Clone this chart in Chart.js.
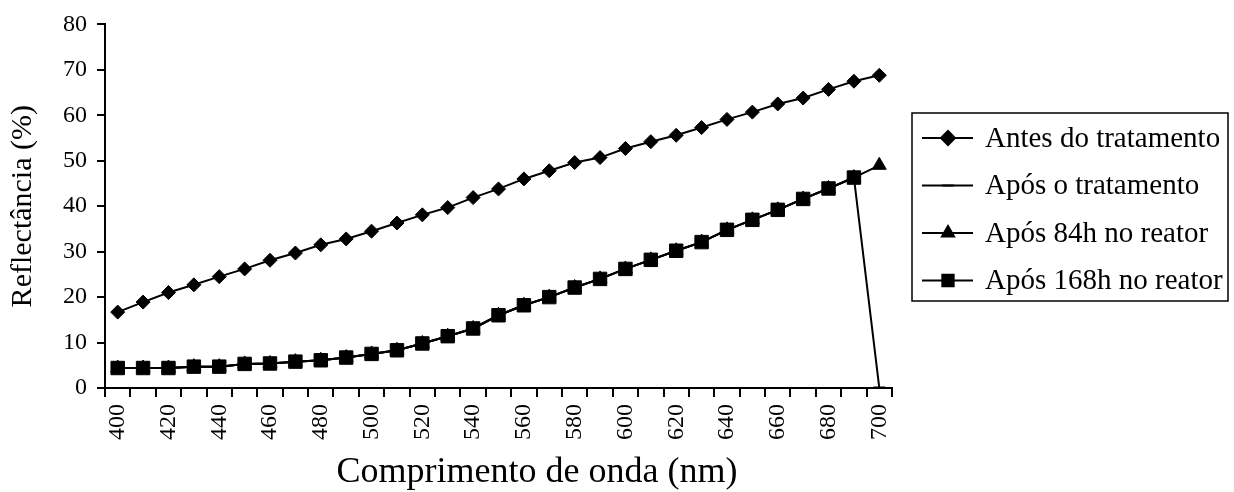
<!DOCTYPE html>
<html>
<head>
<meta charset="utf-8">
<script src="https://cdn.jsdelivr.net/npm/chart.js@4.4.1/dist/chart.umd.min.js"></script>
<style>
  html, body { margin: 0; padding: 0; background: #fff; }
  #wrap { width: 1234px; height: 492px; position: relative; }
</style>
</head>
<body>
<div id="wrap"><canvas id="c" width="1234" height="492"></canvas></div>
<script>
const wavelengths = [400,410,420,430,440,450,460,470,480,490,500,510,520,530,540,550,560,570,580,590,600,610,620,630,640,650,660,670,680,690,700];
const antesTratamento = [16.7,18.9,21.0,22.7,24.5,26.2,28.1,29.7,31.5,32.8,34.5,36.3,38.1,39.7,41.9,43.8,46.0,47.8,49.6,50.7,52.7,54.2,55.6,57.3,59.1,60.7,62.5,63.8,65.7,67.5,68.8];
const aposTratamento = [4.4,4.4,4.4,4.7,4.7,5.3,5.4,5.8,6.1,6.7,7.5,8.3,9.8,11.4,13.1,16.0,18.2,20.0,22.1,24.0,26.2,28.2,30.2,32.1,34.8,37.0,39.2,41.6,43.9,46.3,0];
const apos84h = [4.4,4.4,4.4,4.7,4.7,5.3,5.4,5.8,6.1,6.7,7.5,8.3,9.8,11.4,13.1,16.0,18.2,20.0,22.1,24.0,26.2,28.2,30.2,32.1,34.8,37.0,39.2,41.6,43.9,46.3,49.0];
const apos168h = [4.4,4.4,4.4,4.7,4.7,5.3,5.4,5.8,6.1,6.7,7.5,8.3,9.8,11.4,13.1,16.0,18.2,20.0,22.1,24.0,26.2,28.2,30.2,32.1,34.8,37.0,39.2,41.6,43.9,46.3,null];
const seriesNames = ['Antes do tratamento','Após o tratamento','Após 84h no reator','Após 168h no reator'];
const yTicks = [0,10,20,30,40,50,60,70,80];
const xTitle = 'Comprimento de onda (nm)';
const yTitle = 'Reflectância (%)';

const FONT = "'Liberation Serif', 'Times New Roman', serif";

const legendPlugin = {
  id: 'boxLegend',
  afterDraw(chart) {
    const ctx = chart.ctx;
    ctx.save();
    // x-axis title (slightly right of the plot centre, as in the original)
    ctx.fillStyle = '#000';
    ctx.font = "36px " + FONT;
    ctx.textAlign = 'center';
    ctx.textBaseline = 'alphabetic';
    ctx.fillText(xTitle, 537, 482);

    ctx.strokeStyle = '#000';
    ctx.lineWidth = 1.5;
    ctx.strokeRect(912, 113, 316, 188);
    chart.data.datasets.forEach((ds, i) => {
      const y = 138 + i * 47.5;
      ctx.strokeStyle = '#000';
      ctx.lineWidth = 2;
      ctx.beginPath();
      ctx.moveTo(922, y);
      ctx.lineTo(973, y);
      ctx.stroke();
      ctx.fillStyle = '#000';
      Chart.helpers.drawPoint(ctx, {pointStyle: ds.pointStyle, radius: ds.legendRadius, rotation: 0, borderWidth: ds.pointStyle === 'line' ? 3 : 1}, 948, y);
      ctx.fillStyle = '#000';
      ctx.font = "29px " + FONT;
      ctx.textBaseline = 'middle';
      ctx.textAlign = 'left';
      ctx.fillText(ds.label, 985, y + 1);
    });
    ctx.restore();
  }
};

function ds(label, data, style, radius, legendRadius, order) {
  return {
    label, data,
    borderColor: '#000', backgroundColor: '#000',
    borderWidth: 2, pointStyle: style, pointRadius: radius,
    pointBorderWidth: style === 'line' ? 3 : 1,
    pointBorderColor: '#000', pointBackgroundColor: '#000',
    legendRadius, order, tension: 0, spanGaps: false
  };
}

new Chart(document.getElementById('c'), {
  type: 'line',
  data: {
    labels: wavelengths,
    datasets: [
      ds(seriesNames[0], antesTratamento, 'rectRot', 7, 7, 0),
      ds(seriesNames[1], aposTratamento, 'line', 6, 6, 3),
      ds(seriesNames[2], apos84h, 'triangle', 8, 7, 1),
      ds(seriesNames[3], apos168h, 'rect', 9.5, 8, 2)
    ]
  },
  options: {
    responsive: false,
    animation: false,
    events: [],
    layout: { padding: { left: 0, right: 342, top: 23, bottom: 0 } },
    plugins: { legend: { display: false }, tooltip: { enabled: false } },
    scales: {
      x: {
        type: 'category',
        offset: true,
        border: { color: '#000', width: 2 },
        grid: { offset: true, drawOnChartArea: false, drawTicks: true, tickLength: 9, color: '#000', lineWidth: 2 },
        ticks: {
          autoSkip: false, minRotation: 90, maxRotation: 90, padding: 7,
          color: '#000', font: { family: FONT, size: 24 },
          callback: function(v, i) { return i % 2 === 0 ? String(wavelengths[i]) : ''; }
        },
        title: { display: false, text: xTitle },
        afterFit(scale) { scale.height = 104; }
      },
      y: {
        min: 0, max: 80,
        border: { color: '#000', width: 2 },
        grid: { drawOnChartArea: false, drawTicks: true, tickLength: 8, color: '#000', lineWidth: 2 },
        afterBuildTicks(scale) { scale.ticks = yTicks.map(v => ({ value: v })); },
        ticks: { color: '#000', font: { family: FONT, size: 24 }, padding: 10 },
        title: { display: true, text: yTitle, color: '#000', font: { family: FONT, size: 30, lineHeight: 1 }, padding: { top: 8, bottom: 0 } },
        afterFit(scale) { scale.width = 105; }
      }
    }
  },
  plugins: [legendPlugin]
});
</script>
</body>
</html>
